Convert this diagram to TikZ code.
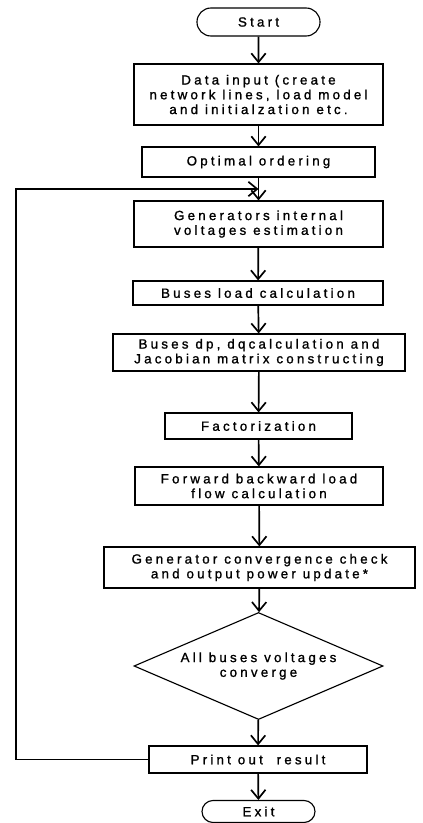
\documentclass[tikz,border=0pt]{standalone}
\usepackage{fontspec}
\setmainfont[LetterSpace=24, FakeBold=1.2]{Liberation Sans}
\usetikzlibrary{shapes.geometric,shapes.misc,arrows.meta}

\begin{document}
\begin{tikzpicture}[x=0.025cm, y=-0.025cm,
    font=\fontsize{9.5}{10.5}\selectfont,
    box/.style={draw, line width=0.8pt, align=center, inner sep=0pt},
    term/.style={draw, line width=0.8pt, rounded rectangle, inner sep=0pt},
    decide/.style={draw, line width=0.8pt, diamond, aspect=2.3, align=center, inner sep=0pt},
    arr/.style={line width=1.2pt, -{Straight Barb[length=2.2mm, width=3.6mm]}}]
    \useasboundingbox (0,0) rectangle (422,823);

    \node[term, minimum width=3.075cm, minimum height=0.7cm] (start) at (258.5,22) {Start};
    \node[box, minimum width=6.225cm, minimum height=1.525cm] (input) at (258.5,94.5)
        {Data input (create\\network lines, load model\\and initialzation etc.};
    \node[box, minimum width=5.825cm, minimum height=0.75cm] (order) at (258.5,162) {Optimal ordering};
    \node[box, minimum width=6.225cm, minimum height=1.15cm] (genvolt) at (258.5,224)
        {Generators internal\\voltages estimation};
    \node[box, minimum width=6.25cm, minimum height=0.6cm] (busload) at (258,293) {Buses load calculation};
    \node[box, minimum width=7.3cm, minimum height=0.925cm] (jacob) at (259,352.5)
        {Buses dp, dqcalculation and\\Jacobian matrix constructing};
    \node[box, minimum width=4.675cm, minimum height=0.65cm] (factor) at (258.5,426) {Factorization};
    \node[box, minimum width=6.2cm, minimum height=0.95cm] (flow) at (259,486)
        {Forward backward load\\flow calculation};
    \node[box, minimum width=7.775cm, minimum height=1.025cm] (gencheck) at (259.5,567.5)
        {Generator convergence check\\and output power update*};
    \node[decide, minimum width=6.225cm, minimum height=2.675cm] (conv) at (258.5,666)
        {All buses voltages\\converge};
    \node[box, minimum width=5.45cm, minimum height=0.675cm] (print) at (258,759.5) {Print out\ \ result};
    \node[term, minimum width=2.825cm, minimum height=0.55cm] (exit) at (258.5,811.5) {Exit};

    % loop back from the print box
    \coordinate (loopbot) at (16,759.5);
    \coordinate (looptop) at (16,189);
    \coordinate (join) at (258.5,189);

    \path[arr]
        (start) edge (input)
        (input) edge (order)
        (order) edge (genvolt)
        (genvolt) edge (busload)
        (busload) edge (jacob)
        (jacob) edge (factor)
        (factor) edge (flow)
        (flow) edge (gencheck)
        (gencheck) edge (conv)
        (conv) edge (print)
        (print) edge (exit);
    \draw[arr] (print.west) -- (loopbot) -- (looptop) -- (join);
\end{tikzpicture}
\end{document}
